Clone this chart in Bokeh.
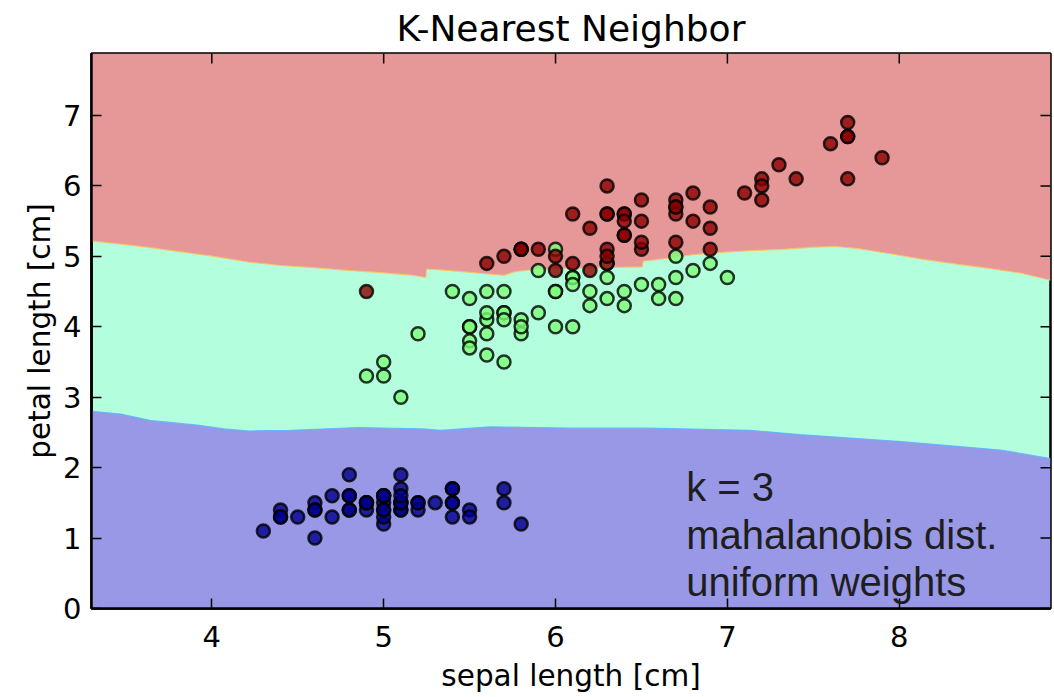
import numpy as np
from bokeh.plotting import figure
from bokeh.models import Range1d, FixedTicker, Label
from bokeh.embed import file_html
from bokeh.resources import INLINE

# Iris measurements (cm): sepal length and petal length per species
setosa_sepal = [5.1, 4.9, 4.7, 4.6, 5.0, 5.4, 4.6, 5.0, 4.4, 4.9, 5.4, 4.8, 4.8, 4.3, 5.8, 5.7, 5.4,
                5.1, 5.7, 5.1, 5.4, 5.1, 4.6, 5.1, 4.8, 5.0, 5.0, 5.2, 5.2, 4.7, 4.8, 5.4, 5.2, 5.5,
                4.9, 5.0, 5.5, 4.9, 4.4, 5.1, 5.0, 4.5, 4.4, 5.0, 5.1, 4.8, 5.1, 4.6, 5.3, 5.0]
setosa_petal = [1.4, 1.4, 1.3, 1.5, 1.4, 1.7, 1.4, 1.5, 1.4, 1.5, 1.5, 1.6, 1.4, 1.1, 1.2, 1.5, 1.3,
                1.4, 1.7, 1.5, 1.7, 1.5, 1.0, 1.7, 1.9, 1.6, 1.6, 1.5, 1.4, 1.6, 1.6, 1.5, 1.5, 1.4,
                1.5, 1.2, 1.3, 1.5, 1.3, 1.5, 1.3, 1.3, 1.3, 1.6, 1.9, 1.4, 1.6, 1.4, 1.5, 1.4]

versicolor_sepal = [7.0, 6.4, 6.9, 5.5, 6.5, 5.7, 6.3, 4.9, 6.6, 5.2, 5.0, 5.9, 6.0, 6.1, 5.6, 6.7, 5.6,
                    5.8, 6.2, 5.6, 5.9, 6.1, 6.3, 6.1, 6.4, 6.6, 6.8, 6.7, 6.0, 5.7, 5.5, 5.5, 5.8, 6.0,
                    5.4, 6.0, 6.7, 6.3, 5.6, 5.5, 5.5, 6.1, 5.8, 5.0, 5.6, 5.7, 5.7, 6.2, 5.1, 5.7]
versicolor_petal = [4.7, 4.5, 4.9, 4.0, 4.6, 4.5, 4.7, 3.3, 4.6, 3.9, 3.5, 4.2, 4.0, 4.7, 3.6, 4.4, 4.5,
                    4.1, 4.5, 3.9, 4.8, 4.0, 4.9, 4.7, 4.3, 4.4, 4.8, 5.0, 4.5, 3.5, 3.8, 3.7, 3.9, 5.1,
                    4.5, 4.5, 4.7, 4.4, 4.1, 4.0, 4.4, 4.6, 4.0, 3.3, 4.2, 4.2, 4.2, 4.3, 3.0, 4.1]

virginica_sepal = [6.3, 5.8, 7.1, 6.3, 6.5, 7.6, 4.9, 7.3, 6.7, 7.2, 6.5, 6.4, 6.8, 5.7, 5.8, 6.4, 6.5,
                   7.7, 7.7, 6.0, 6.9, 5.6, 7.7, 6.3, 6.7, 7.2, 6.2, 6.1, 6.4, 7.2, 7.4, 7.9, 6.4, 6.3,
                   6.1, 7.7, 6.3, 6.4, 6.0, 6.9, 6.7, 6.9, 5.8, 6.8, 6.7, 6.7, 6.3, 6.5, 6.2, 5.9]
virginica_petal = [6.0, 5.1, 5.9, 5.6, 5.8, 6.6, 4.5, 6.3, 5.8, 6.1, 5.1, 5.3, 5.5, 5.0, 5.1, 5.3, 5.5,
                   6.7, 6.9, 5.0, 5.7, 4.9, 6.7, 4.9, 5.7, 6.0, 4.8, 4.9, 5.6, 5.8, 6.1, 6.4, 5.6, 5.1,
                   5.6, 6.1, 5.6, 5.5, 4.8, 5.4, 5.6, 5.1, 5.1, 5.9, 5.7, 5.2, 5.0, 5.2, 5.4, 5.1]

# decision-region borders of the 3-NN classifier
# virginica | versicolor border
upper_border_x = [3.30, 3.62, 4.01, 4.21, 4.40, 4.59, 4.79, 4.98, 5.17, 5.245, 5.25, 5.37, 5.56,
                  5.70, 5.76, 5.86, 6.06, 6.25, 6.505, 6.51, 6.65, 6.79, 6.93, 7.13, 7.32, 7.51,
                  7.63, 7.76, 7.94, 8.13, 8.33, 8.52, 8.71, 8.88]
upper_border_y = [5.22, 5.13, 5.00, 4.92, 4.87, 4.84, 4.80, 4.77, 4.73, 4.70, 4.82, 4.80, 4.76,
                  4.73, 4.78, 4.81, 4.83, 4.84, 4.85, 4.93, 4.97, 5.02, 5.05, 5.08, 5.10, 5.13,
                  5.14, 5.11, 5.04, 4.96, 4.89, 4.83, 4.76, 4.66]
# versicolor | setosa border
lower_border_x = [3.30, 3.47, 3.64, 3.93, 4.07, 4.22, 4.46, 4.85, 5.23, 5.33, 5.62, 6.09, 6.55,
                  7.13, 7.42, 8.01, 8.59, 8.88]
lower_border_y = [2.80, 2.76, 2.67, 2.60, 2.55, 2.52, 2.53, 2.57, 2.55, 2.53, 2.58, 2.56, 2.56,
                  2.53, 2.47, 2.37, 2.25, 2.13]

x_ticks = [4, 5, 6, 7, 8]
y_ticks = [0, 1, 2, 3, 4, 5, 6, 7]
x_lo, x_hi = 3.30, 8.88
y_lo, y_hi = 0.0, 7.88

info_lines = ["k = 3", "mahalanobis dist.", "uniform weights"]

W, H = 1054, 697
BL, BR, BT, BB = 91, 4, 53, 89

p = figure(width=W, height=H,
           x_range=Range1d(x_lo, x_hi), y_range=Range1d(y_lo, y_hi),
           output_backend="svg", toolbar_location=None,
           min_border_left=BL, min_border_right=BR, min_border_top=BT, min_border_bottom=BB,
           title="K-Nearest Neighbor")
p.background_fill_color = "#b3ffdd"   # versicolor region
p.border_fill_color = "white"
p.xgrid.visible = False
p.ygrid.visible = False
p.outline_line_color = "black"
p.outline_line_width = 2.5

p.title.align = "center"
p.title.text_font = "DejaVu Sans"
p.title.text_font_size = "36px"
p.title.text_font_style = "normal"
p.title.text_color = "black"

# decision regions
p.varea(x=upper_border_x, y1=upper_border_y, y2=[y_hi] * len(upper_border_x),
        fill_color="#e69797")
p.varea(x=lower_border_x, y1=[y_lo] * len(lower_border_x), y2=lower_border_y,
        fill_color="#9898e6")
p.line(upper_border_x, upper_border_y, line_color="#f7c46a", line_width=1.2, line_alpha=0.9)
p.line(lower_border_x, lower_border_y, line_color="#5fb4ff", line_width=1.2, line_alpha=0.9)

# species scatter
species = [
    (setosa_sepal, setosa_petal, "#00008c"),
    (versicolor_sepal, versicolor_petal, "#7dff7a"),
    (virginica_sepal, virginica_petal, "#8c0000"),
]
for xs, ys, col in species:
    p.scatter(xs, ys, size=13, fill_color=col, fill_alpha=0.8,
              line_color="black", line_alpha=0.8, line_width=2.5)

# axes: ticks point inward
xax = p.below[0]
yax = p.left[0]
xax.ticker = FixedTicker(ticks=x_ticks)
yax.ticker = FixedTicker(ticks=y_ticks)
for ax in (xax, yax):
    ax.major_tick_in = 10
    ax.major_tick_out = 0
    ax.minor_tick_line_color = None
    ax.axis_line_color = "black"
    ax.axis_line_width = 2.5
    ax.major_tick_line_width = 1.5
    ax.major_tick_line_color = "black"
    ax.major_label_text_font = "DejaVu Sans"
    ax.major_label_text_font_size = "29px"
    ax.major_label_text_color = "black"
    ax.axis_label_text_font = "DejaVu Sans"
    ax.axis_label_text_font_size = "29.5px"
    ax.axis_label_text_font_style = "normal"
    ax.axis_label_text_color = "black"
xax.axis_label = "sepal length [cm]"
yax.axis_label = "petal length [cm]"
xax.major_label_standoff = 17
yax.major_label_standoff = 10
xax.axis_label_standoff = 9
yax.axis_label_standoff = 3

# matching inward ticks on the top and right edges
frame_w = W - BL - BR
frame_h = H - BT - BB
tick_dx = 10 * (x_hi - x_lo) / frame_w
tick_dy = 10 * (y_hi - y_lo) / frame_h
p.segment(x0=x_ticks, y0=[y_hi] * len(x_ticks), x1=x_ticks, y1=[y_hi - tick_dy] * len(x_ticks),
          line_color="black", line_width=1.5)
p.segment(x0=[x_hi] * len(y_ticks), y0=y_ticks, x1=[x_hi - tick_dx] * len(y_ticks), y1=y_ticks,
          line_color="black", line_width=1.5)

# model settings annotation
info_y = [1.72, 1.04, 0.37]
for txt, yy in zip(info_lines, info_y):
    p.add_layout(Label(x=6.76, y=yy, text=txt, text_font="Liberation Sans",
                       text_font_size="40px", text_color="#1e1e1e",
                       text_baseline="alphabetic", text_align="left"))

open("out.html", "w").write(file_html(p, INLINE))
